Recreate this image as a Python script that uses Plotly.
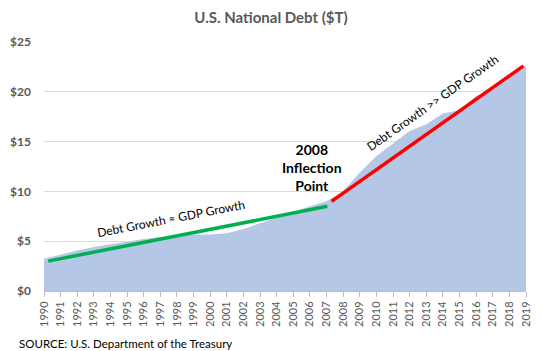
import plotly.graph_objects as go

years = list(range(1990, 2020))
debt = [3.23, 3.67, 4.06, 4.41, 4.69, 4.97, 5.22, 5.41, 5.53, 5.66,
        5.67, 5.81, 6.23, 6.78, 7.38, 7.93, 8.51, 9.01, 10.02, 11.91,
        13.56, 14.79, 16.07, 16.74, 17.82, 18.15, 19.57, 20.24, 21.52, 22.65]

green_x = [1990.25, 2007.05]
green_y = [3.0, 8.5]
red_x = [2007.3, 2018.85]
red_y = [9.0, 22.6]

tick_labels = [str(y) for y in years]

FONT = "Lato, 'Open Sans', sans-serif"
GRAY = "#595959"

fig = go.Figure()
fig.add_trace(go.Scatter(x=years, y=debt, mode="lines", fill="tozeroy",
                         fillcolor="#B4C7E7", line=dict(width=0, color="#B4C7E7"),
                         hoverinfo="skip", showlegend=False))
fig.add_trace(go.Scatter(x=green_x, y=green_y, mode="lines",
                         line=dict(color="#00B050", width=3.5), showlegend=False))
fig.add_trace(go.Scatter(x=red_x, y=red_y, mode="lines",
                         line=dict(color="#FF0000", width=3.5), showlegend=False))

fig.update_layout(
    width=542, height=351,
    margin=dict(l=40, r=10, t=42, b=60),
    paper_bgcolor="white", plot_bgcolor="white",
    font=dict(family=FONT, color=GRAY),
    title=dict(text="<b>U.S. National Debt ($T)</b>", x=0.5, xanchor="center",
               y=1 - 18 / 351, yanchor="middle",
               font=dict(size=15, color=GRAY, family=FONT)),
    xaxis=dict(range=[1990, 2019], tickvals=years, ticktext=tick_labels,
               tickangle=-90, ticks="outside", ticklen=5, tickcolor="#BFBFBF",
               showgrid=False, showline=True, linecolor="#BFBFBF", linewidth=1,
               tickfont=dict(size=11, color=GRAY), zeroline=False),
    yaxis=dict(range=[0, 25], dtick=5, tickprefix="$", showgrid=True,
               gridcolor="#D9D9D9", gridwidth=1, zeroline=False,
               showline=False, ticks="", ticklabelstandoff=12,
               tickfont=dict(size=12, color=GRAY, family=FONT, weight="bold")),
    annotations=[
        dict(x=2006.1, y=12.35, xref="x", yref="y",
             text="<b>2008<br>Inflection<br>Point</b>", showarrow=False,
             font=dict(size=14, color="black", family=FONT),
             xanchor="center", yanchor="middle", align="center"),
        dict(x=1997.66, y=7.23, xref="x", yref="y",
             text="Debt Growth ≈ GDP Growth", showarrow=False, textangle=-11,
             font=dict(size=12, color="black", family=FONT),
             xanchor="center", yanchor="middle"),
        dict(x=2013.4, y=18.9, xref="x", yref="y",
             text="Debt Growth >> GDP Growth", showarrow=False, textangle=-35,
             font=dict(size=12, color="black", family=FONT),
             xanchor="center", yanchor="middle"),
        dict(x=(12 - 40) / 492, y=(291 - 343) / 249, xref="paper", yref="paper",
             text="SOURCE: U.S. Department of the Treasury", showarrow=False,
             font=dict(size=11.5, color="black", family=FONT),
             xanchor="left", yanchor="middle"),
    ],
)

fig.write_html("out.html")
